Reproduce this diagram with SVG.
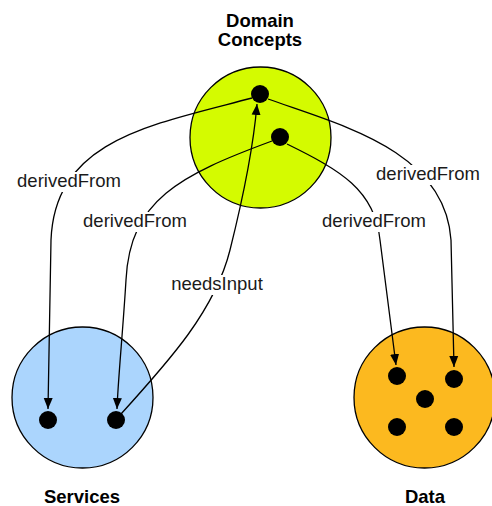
<svg xmlns="http://www.w3.org/2000/svg" width="492" height="506" viewBox="0 0 492 506">
<style>
.title{font-family:"Liberation Sans",Arial,sans-serif;font-weight:bold;font-size:18.5px;fill:#000;text-anchor:middle}
.lbl{font-family:"Liberation Sans",Arial,sans-serif;font-size:18.5px;fill:#1a1a1a;text-anchor:middle}
.edge{fill:none;stroke:#000;stroke-width:1.3}
.ring{stroke:#000;stroke-width:1.3}
.dot{fill:#000}
.bg{fill:#fff}
</style>
<defs>
<marker id="arr" markerUnits="userSpaceOnUse" markerWidth="12" markerHeight="10" refX="11" refY="5" orient="auto">
<path d="M0,0.5 L11,5 L0,9.5 z" fill="#000"/>
</marker>
</defs>
<rect width="492" height="506" fill="#fff"/>
<g id="domain">
<circle class="ring" cx="260.5" cy="137.5" r="70.5" fill="#d4fb00"/>
<circle class="dot" cx="260" cy="94" r="9"/>
<circle class="dot" cx="280" cy="137" r="9"/>
<text class="title" x="260" y="26.5">Domain</text>
<text class="title" x="260" y="46">Concepts</text>
</g>
<g id="services">
<circle class="ring" cx="82.5" cy="397.5" r="70.5" fill="#abd5fd"/>
<circle class="dot" cx="48" cy="420" r="9"/>
<circle class="dot" cx="116" cy="420" r="9"/>
<text class="title" x="82" y="502.5">Services</text>
</g>
<g id="data">
<circle class="ring" cx="424.5" cy="397.5" r="70.5" fill="#fcb91f"/>
<circle class="dot" cx="397" cy="376" r="9"/>
<circle class="dot" cx="454" cy="379" r="9"/>
<circle class="dot" cx="425" cy="399" r="9"/>
<circle class="dot" cx="397" cy="427" r="9"/>
<circle class="dot" cx="454" cy="427" r="9"/>
<text class="title" x="425" y="502.5">Data</text>
</g>
<g id="connectors">
<path class="edge" marker-end="url(#arr)" d="M252,98 C150,125 55,140 51,240 L48,409"/>
<path class="edge" marker-end="url(#arr)" d="M272,141 C180,175 130,200 126,280 C123,330 118,380 117,409"/>
<path class="edge" marker-end="url(#arr)" d="M121,414 C170,360 215,310 230,250 C245,190 254,140 257,104"/>
<path class="edge" marker-end="url(#arr)" d="M268,99 C340,125 445,150 451,240 L454,367"/>
<path class="edge" marker-end="url(#arr)" d="M287,144 C340,170 375,190 380,240 L396,365"/>
<g id="labels">
<rect class="bg" x="15" y="172" width="108" height="20"/>
<text class="lbl" x="69" y="187">derivedFrom</text>
<rect class="bg" x="81" y="212" width="108" height="20"/>
<text class="lbl" x="135" y="227">derivedFrom</text>
<rect class="bg" x="169" y="275" width="96" height="20"/>
<text class="lbl" x="217" y="290">needsInput</text>
<rect class="bg" x="374" y="165" width="108" height="20"/>
<text class="lbl" x="428" y="180">derivedFrom</text>
<rect class="bg" x="320" y="212" width="108" height="20"/>
<text class="lbl" x="374" y="227">derivedFrom</text>
</g>
</g>
</svg>
